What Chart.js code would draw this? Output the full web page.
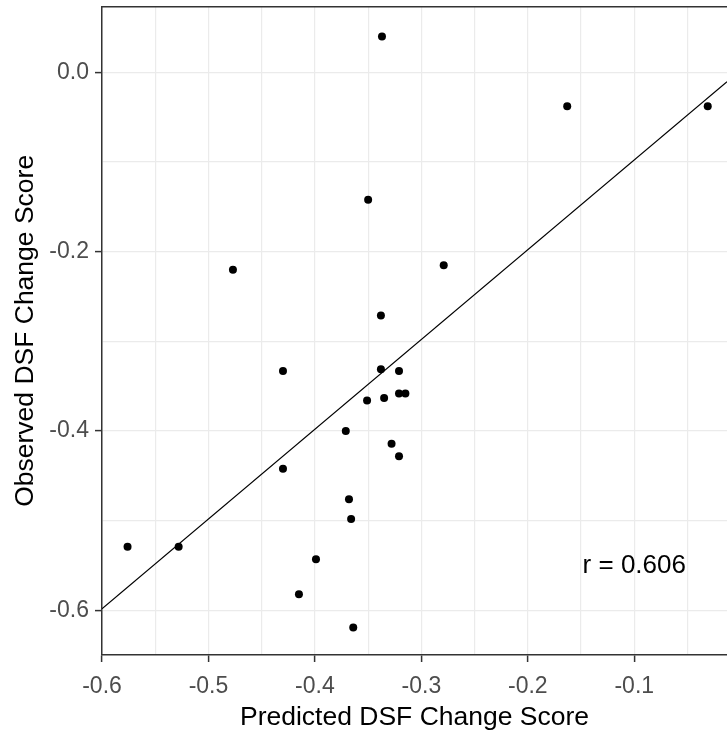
<!DOCTYPE html>
<html>
<head>
<meta charset="utf-8">
<script src="https://cdn.jsdelivr.net/npm/chart.js@4/dist/chart.umd.min.js"></script>
<style>
  html, body { margin: 0; padding: 0; background: #ffffff; }
  #wrap { width: 727px; height: 737px; position: relative; }
</style>
</head>
<body>
<div id="wrap"><canvas id="c" width="727" height="737"></canvas></div>
<script>
// ---- data ----
const predicted = [-0.337, -0.163, -0.031, -0.350, -0.477, -0.279, -0.338, -0.430, -0.338, -0.321,
                   -0.351, -0.335, -0.321, -0.315, -0.371, -0.328, -0.321, -0.430, -0.368, -0.366,
                   -0.399, -0.576, -0.528, -0.415, -0.364];
const observed  = [0.040, -0.038, -0.038, -0.142, -0.220, -0.215, -0.271, -0.333, -0.331, -0.333,
                   -0.366, -0.363, -0.358, -0.358, -0.400, -0.414, -0.428, -0.442, -0.476, -0.498,
                   -0.543, -0.529, -0.529, -0.582, -0.619];
const fitLineX = [-0.6, -0.0129];
const fitLineY = [-0.598, -0.0105];
const xMajorTicks = [-0.6, -0.5, -0.4, -0.3, -0.2, -0.1];
const xMinorTicks = [-0.55, -0.45, -0.35, -0.25, -0.15, -0.05];
const yMajorTicks = [0.0, -0.2, -0.4, -0.6];
const yMinorTicks = [-0.1, -0.3, -0.5];
const xTitle = 'Predicted DSF Change Score';
const yTitle = 'Observed DSF Change Score';
const annotationText = 'r = 0.606';
const annotationX = [-0.1];
const annotationY = [-0.55];

const FONT = '"Liberation Sans", Arial, sans-serif';
const isMajor = (v, list) => list.some(m => Math.abs(m - v) < 1e-6);
const fmt = v => { const s = v.toFixed(1); return s === '-0.0' ? '0.0' : s; };
const tickObjs = (major, minor) => major.concat(minor).sort((a, b) => a - b).map(v => ({ value: v }));

const scatterData = predicted.map((x, i) => ({ x: x, y: observed[i] }));
const lineData = fitLineX.map((x, i) => ({ x: x, y: fitLineY[i] }));

const extras = {
  id: 'extras',
  afterDatasetsDraw(chart) {
    const { ctx, chartArea, scales } = chart;
    ctx.save();
    ctx.strokeStyle = '#333333';
    ctx.lineWidth = 1.5;
    ctx.beginPath();
    ctx.moveTo(chartArea.left, chartArea.top);
    ctx.lineTo(chartArea.right, chartArea.top);
    ctx.stroke();
    ctx.fillStyle = '#000000';
    ctx.font = '26px ' + FONT;
    ctx.textAlign = 'center';
    ctx.textBaseline = 'middle';
    ctx.fillText(annotationText, scales.x.getPixelForValue(annotationX[0]), scales.y.getPixelForValue(annotationY[0]));
    ctx.restore();
  }
};

new Chart(document.getElementById('c'), {
  type: 'scatter',
  data: {
    datasets: [
      {
        type: 'line',
        data: lineData,
        borderColor: '#000000',
        borderWidth: 1.1,
        pointRadius: 0,
        fill: false,
        tension: 0,
        order: 2
      },
      {
        type: 'scatter',
        data: scatterData,
        backgroundColor: '#000000',
        borderColor: '#000000',
        borderWidth: 0,
        pointRadius: 4,
        order: 1
      }
    ]
  },
  options: {
    responsive: false,
    animation: false,
    layout: { autoPadding: false, padding: { top: 6.7, right: 0, left: 0, bottom: 0 } },
    plugins: { legend: { display: false }, tooltip: { enabled: false } },
    scales: {
      x: {
        type: 'linear',
        min: -0.6,
        max: fitLineX[1],
        afterBuildTicks: s => { s.ticks = tickObjs(xMajorTicks, xMinorTicks); },
        afterFit: s => { s.height = 82; s.paddingLeft = 0; s.paddingRight = 0; },
        ticks: {
          autoSkip: false,
          maxRotation: 0,
          padding: 11,
          color: '#4D4D4D',
          font: { family: FONT, size: 23 },
          callback: v => isMajor(v, xMajorTicks) ? fmt(v) : ''
        },
        grid: {
          color: '#EBEBEB',
          lineWidth: 1.2,
          tickLength: 7,
          tickWidth: 1.5,
          tickColor: c => (c.tick && isMajor(c.tick.value, xMajorTicks)) ? '#333333' : 'rgba(0,0,0,0)'
        },
        border: { display: true, color: '#333333', width: 1.5 },
        title: {
          display: true,
          text: xTitle,
          color: '#000000',
          font: { family: FONT, size: 26.5 },
          padding: { top: 0, bottom: 3 }
        }
      },
      y: {
        type: 'linear',
        min: -0.6496,
        max: 0.0731,
        afterBuildTicks: s => { s.ticks = tickObjs(yMajorTicks, yMinorTicks); },
        afterFit: s => { s.width = 102; s.paddingTop = 0; s.paddingBottom = 0; },
        ticks: {
          autoSkip: false,
          padding: 6,
          color: '#4D4D4D',
          font: { family: FONT, size: 23 },
          callback: v => isMajor(v, yMajorTicks) ? fmt(v) : ''
        },
        grid: {
          color: '#EBEBEB',
          lineWidth: 1.2,
          tickLength: 7,
          tickWidth: 1.5,
          tickColor: c => (c.tick && isMajor(c.tick.value, yMajorTicks)) ? '#333333' : 'rgba(0,0,0,0)'
        },
        border: { display: true, color: '#333333', width: 1.5 },
        title: {
          display: true,
          text: yTitle,
          color: '#000000',
          font: { family: FONT, size: 26.5 },
          padding: { top: 10, bottom: 0 }
        }
      }
    }
  },
  plugins: [extras]
});
</script>
</body>
</html>
